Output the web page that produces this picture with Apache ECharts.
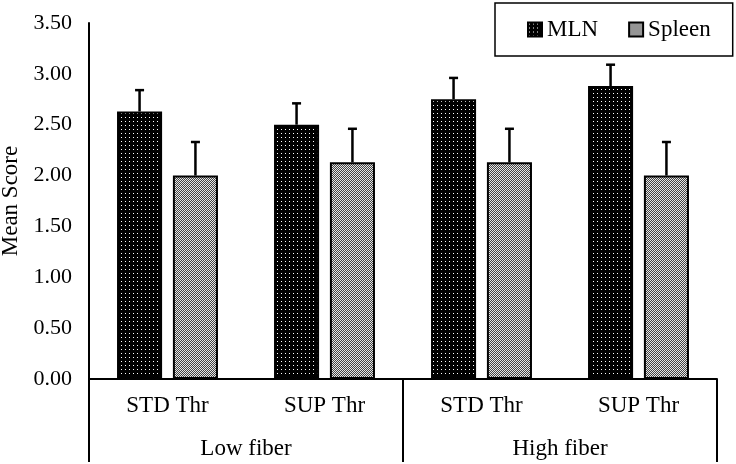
<!DOCTYPE html>
<html>
<head>
<meta charset="utf-8">
<script src="https://cdn.jsdelivr.net/npm/echarts@6/dist/echarts.min.js"></script>
<style>
  html, body { margin: 0; padding: 0; background: #fff; }
  #chart { width: 736px; height: 464px; }
</style>
</head>
<body>
<div id="chart"></div>
<script>
// data
var categories = ['STD Thr', 'SUP Thr', 'STD Thr', 'SUP Thr'];
var groups = ['Low fiber', 'High fiber'];
var mlnMean = [2.63, 2.50, 2.75, 2.88];
var mlnErr = [0.21, 0.21, 0.21, 0.21];
var spleenMean = [2.00, 2.13, 2.13, 2.00];
var spleenErr = [0.33, 0.33, 0.33, 0.33];
var yTicks = [0, 0.5, 1, 1.5, 2, 2.5, 3, 3.5];

var FONT = '"Liberation Serif", "Times New Roman", serif';
var BAR_W = 0.287;   // share of band
var BAR_GAP = 0.24;  // share of bar width

// fill patterns
function makePattern(size, bg, fg, dots) {
  var c = document.createElement('canvas');
  c.width = size; c.height = size;
  var ctx = c.getContext('2d');
  ctx.fillStyle = bg;
  ctx.fillRect(0, 0, size, size);
  ctx.fillStyle = fg;
  dots.forEach(function (d) { ctx.fillRect(d[0], d[1], 1, 1); });
  return { image: c, repeat: 'repeat' };
}
var mlnFill = makePattern(4, '#000', '#fff', [[1, 1]]);
var spleenFill = makePattern(2, '#444', '#e6e6e6', [[0, 0], [1, 1]]);

var chart = echarts.init(document.getElementById('chart'));

function errorBar(seriesIdx, means, errs) {
  return {
    type: 'custom',
    xAxisIndex: 0,
    z: 1,
    silent: true,
    data: means.map(function (m, i) { return [i, m, m + errs[i]]; }),
    renderItem: function (params, api) {
      var band = api.size([1, 0])[0];
      var bw = band * BAR_W;
      var off = (bw + bw * BAR_GAP) / 2;
      var base = api.coord([api.value(0), api.value(1)]);
      var top = api.coord([api.value(0), api.value(2)]);
      var x = base[0] + (seriesIdx === 0 ? -off : off);
      var style = { stroke: '#000', lineWidth: 2.5 };
      return {
        type: 'group',
        children: [
          { type: 'line', shape: { x1: x, y1: base[1], x2: x, y2: top[1] }, style: style },
          { type: 'line', shape: { x1: x - 4.5, y1: top[1], x2: x + 4.5, y2: top[1] }, style: style }
        ]
      };
    }
  };
}

chart.setOption({
  animation: false,
  textStyle: { fontFamily: FONT },
  legend: {
    data: ['MLN', 'Spleen'],
    left: 495,
    top: 3,
    width: 230,
    padding: [15, 22, 15, 32],
    borderColor: '#000',
    borderWidth: 1.5,
    itemWidth: 14,
    itemHeight: 14,
    itemGap: 30,
    icon: 'rect',
    textStyle: { fontFamily: FONT, fontSize: 23, color: '#000' }
  },
  grid: { left: 89, right: 19, top: 23, bottom: 85, outerBoundsMode: 'none' },
  xAxis: [
    {
      type: 'category',
      data: categories,
      position: 'bottom',
      axisLine: { lineStyle: { color: '#000', width: 2 } },
      axisTick: { show: false },
      axisLabel: { fontFamily: FONT, fontSize: 23, color: '#000', margin: 15 }
    },
    {
      type: 'category',
      data: groups,
      position: 'bottom',
      axisLine: { show: false },
      axisTick: { show: true, length: 83, lineStyle: { color: '#000', width: 2 } },
      axisLabel: { fontFamily: FONT, fontSize: 23, color: '#000', margin: 58 }
    }
  ],
  yAxis: {
    type: 'value',
    min: yTicks[0],
    max: yTicks[yTicks.length - 1],
    interval: 0.5,
    name: 'Mean Score',
    nameLocation: 'middle',
    nameGap: 66,
    nameTextStyle: { fontFamily: FONT, fontSize: 23, color: '#000' },
    axisLine: { show: true, lineStyle: { color: '#000', width: 2 } },
    axisTick: { show: false },
    splitLine: { show: false },
    axisLabel: {
      fontFamily: FONT, fontSize: 22, color: '#000', margin: 17,
      formatter: function (v) { return v.toFixed(2); }
    }
  },
  series: [
    {
      name: 'MLN',
      type: 'bar',
      xAxisIndex: 0,
      data: mlnMean,
      barWidth: (BAR_W * 100) + '%',
      barGap: (BAR_GAP * 100) + '%',
      itemStyle: { color: mlnFill, borderColor: '#000', borderWidth: 2 }
    },
    {
      name: 'Spleen',
      type: 'bar',
      xAxisIndex: 0,
      data: spleenMean,
      barWidth: (BAR_W * 100) + '%',
      itemStyle: { color: spleenFill, borderColor: '#000', borderWidth: 2 }
    },
    errorBar(0, mlnMean, mlnErr),
    errorBar(1, spleenMean, spleenErr)
  ]
});
</script>
</body>
</html>
